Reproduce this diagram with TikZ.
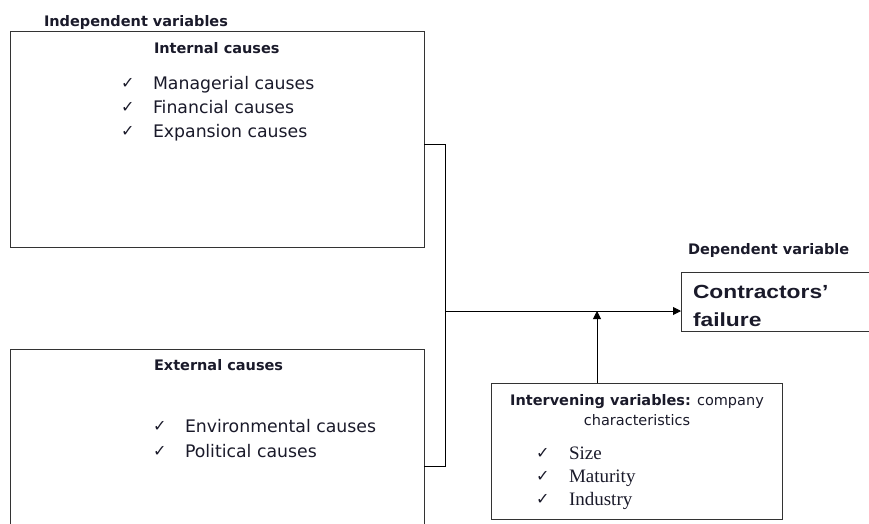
\documentclass[tikz,border=0pt]{standalone}
\usepackage{fontspec}
\setmainfont{DejaVu Sans}
\newfontfamily\timesf{Liberation Serif}
\newfontfamily\arialw[FakeStretch=1.2]{Liberation Sans}
\usetikzlibrary{arrows.meta}
\definecolor{ink}{HTML}{1A1A2A}
\definecolor{edge}{HTML}{333333}
\tikzset{
  box/.style={draw=edge, line width=0.9pt, inner sep=0pt, outer sep=0pt},
  txt/.style={inner sep=0pt, outer sep=0pt, text=ink, anchor=base west},
  head/.style={txt, font=\bfseries\fontsize{14.5}{17}\selectfont},
  item/.style={txt, font=\fontsize{17.3}{20}\selectfont},
  sitem/.style={txt, font=\timesf\fontsize{19}{22}\selectfont},
  tick/.style={txt, font=\fontsize{16}{18}\selectfont},
  conn/.style={draw=black, line width=0.9pt},
  arr/.style={conn, -{Triangle[length=8pt,width=8pt]}}
}
\begin{document}
\begin{tikzpicture}[x=1pt,y=-1pt]
\useasboundingbox (0,0) rectangle (869,523);
% boxes
\node[box, minimum width=414pt, minimum height=216pt] (int) at (217,139) {};
\node[box, minimum width=414pt, minimum height=220pt] (ext) at (217,459) {};
\node[box, minimum width=219pt, minimum height=59pt] (dep) at (790.5,301.5) {};
\node[box, minimum width=291pt, minimum height=136pt] (inter) at (636.5,451) {};
% texts
\node[head] (indep) at (44,26) {Independent variables};
\node[head] (intt) at (154,53) {Internal causes};
\node[tick] (c1) at (121,88) {✓};
\node[item] (i1) at (153,89) {Managerial causes};
\node[tick] (c2) at (121,112) {✓};
\node[item] (i2) at (153,113) {Financial causes};
\node[tick] (c3) at (121,136) {✓};
\node[item] (i3) at (153,137) {Expansion causes};
\node[head] (extt) at (154,370) {External causes};
\node[tick] (c4) at (153,431) {✓};
\node[item] (e1) at (185,432) {Environmental causes};
\node[tick] (c5) at (153,456) {✓};
\node[item] (e2) at (185,457) {Political causes};
\node[head] (dept) at (688,254) {Dependent variable};
\node[txt, font=\arialw\bfseries\fontsize{19}{22}\selectfont] (d1) at (693,298) {Contractors’};
\node[txt, font=\arialw\bfseries\fontsize{19}{22}\selectfont] (d2) at (693,326) {failure};
\node[txt, anchor=base, font=\fontsize{14.5}{17}\selectfont] (it1) at (637,405) {\textbf{Intervening variables:} company};
\node[txt, anchor=base, font=\fontsize{14.5}{17}\selectfont] (it2) at (637,425) {characteristics};
\node[tick] (c6) at (536,458) {✓};
\node[sitem] (s1) at (569,459) {Size};
\node[tick] (c7) at (536,481) {✓};
\node[sitem] (s2) at (569,482) {Maturity};
\node[tick] (c8) at (536,504) {✓};
\node[sitem] (s3) at (569,505) {Industry};
% connectors
\coordinate (b1) at (445,144);
\coordinate (b2) at (445,466);
\coordinate (j) at (445,311);
\coordinate (m) at (597,311);
\draw[conn] (int.east |- b1) -- (b1) -- (b2) -- (ext.east |- b2);
\draw[arr] (j) -- (dep.west |- j);
\draw[arr] (inter.north -| m) -- (m);
\end{tikzpicture}
\end{document}
